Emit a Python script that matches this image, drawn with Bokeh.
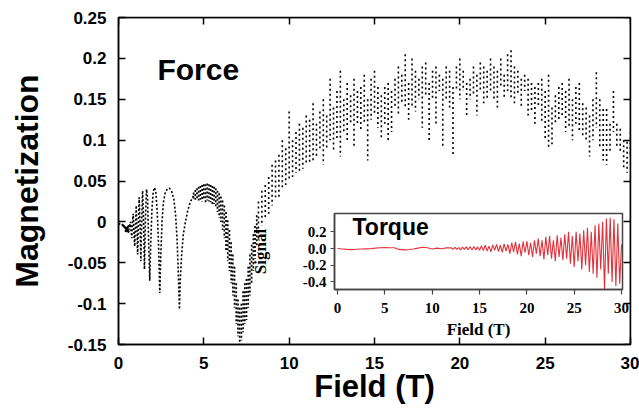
from bokeh.plotting import figure
from bokeh.models import Range1d, LinearAxis, FixedTicker, Label, PrintfTickFormatter
from bokeh.embed import file_html
from bokeh.resources import INLINE

# ---------------- data: main (Force) ----------------
# low-field dHvA trace
lf_x = [0.0, 0.1, 0.2, 0.3, 0.4, 0.5, 0.6, 0.66, 0.7, 0.74, 0.78, 0.82, 0.86, 0.9, 0.95,
        1.0, 1.04, 1.08, 1.12, 1.17, 1.21, 1.26, 1.31, 1.36, 1.41, 1.46, 1.52, 1.58, 1.64,
        1.7, 1.76, 1.83, 1.89, 1.96, 2.03, 2.11, 2.19, 2.27, 2.35, 2.42, 2.48, 2.55, 2.63,
        2.74, 2.88, 3.0, 3.12, 3.24, 3.34, 3.43, 3.5, 3.57, 3.62, 3.7, 3.8, 3.92, 4.05,
        4.2, 4.4]
lf_y = [-0.002, -0.003, -0.004, -0.005, -0.007, -0.009, -0.01, -0.005, 0.0, -0.012, -0.02,
        0.0, 0.01, -0.01, -0.03, 0.0, 0.02, -0.01, -0.04, 0.0, 0.03, 0.0, -0.048, 0.0, 0.038,
        0.01, -0.058, 0.005, 0.04, 0.03, -0.02, -0.072, -0.025, 0.015, 0.036, 0.042, 0.036,
        0.012, -0.03, -0.087, -0.04, 0.0, 0.024, 0.036, 0.041, 0.041, 0.037, 0.028, 0.01,
        -0.02, -0.06, -0.107, -0.07, -0.04, -0.015, 0.0, 0.013, 0.024, 0.032]
core_x = [0.2, 0.35, 0.5, 0.62, 0.5, 0.4, 0.55, 0.7]
core_y = [-0.003, -0.006, -0.01, -0.013, -0.01, -0.012, -0.006, -0.004]

# hump / dip band (top and bottom of each dotted column)
band_x = [4.4, 4.5, 4.6, 4.7, 4.8, 4.9, 5.0, 5.1, 5.2, 5.3, 5.4, 5.5, 5.6, 5.7, 5.8, 5.9,
          6.0, 6.1, 6.2, 6.3, 6.4, 6.5, 6.6, 6.7, 6.8, 6.9, 7.0, 7.1, 7.2, 7.3, 7.4, 7.5,
          7.6, 7.7, 7.8, 7.9, 8.0, 8.1]
band_top = [0.036, 0.039, 0.041, 0.043, 0.044, 0.045, 0.046, 0.046, 0.047, 0.046, 0.045,
            0.044, 0.043, 0.041, 0.038, 0.035, 0.031, 0.026, 0.02, 0.012, 0.002, -0.01,
            -0.025, -0.04, -0.055, -0.075, -0.095, -0.105, -0.1, -0.085, -0.075, -0.07,
            -0.055, -0.04, -0.028, -0.015, -0.005, 0.008]
band_bot = [0.026, 0.027, 0.027, 0.026, 0.027, 0.025, 0.027, 0.024, 0.026, 0.025, 0.024,
            0.022, 0.022, 0.018, 0.012, 0.005, 0.0, -0.01, -0.02, -0.035, -0.048, -0.06,
            -0.075, -0.09, -0.105, -0.125, -0.14, -0.15, -0.145, -0.135, -0.125, -0.12,
            -0.105, -0.09, -0.075, -0.06, -0.045, -0.03]

# high-field columns
hf_x = [8.2, 8.4, 8.6, 8.8, 9.0, 9.2, 9.4, 9.6, 9.8, 10.0, 10.2, 10.4, 10.6, 10.8, 11.0,
        11.2, 11.4, 11.6, 11.8, 12.0, 12.2, 12.4, 12.6, 12.8, 13.0, 13.2, 13.4, 13.6, 13.8,
        14.0, 14.2, 14.4, 14.6, 14.8, 15.0, 15.2, 15.4, 15.6, 15.8, 16.0, 16.2, 16.4, 16.6,
        16.8, 17.0, 17.2, 17.4, 17.6, 17.8, 18.0, 18.2, 18.4, 18.6, 18.8, 19.0, 19.2, 19.4,
        19.6, 19.8, 20.0, 20.2, 20.4, 20.6, 20.8, 21.0, 21.2, 21.4, 21.6, 21.8, 22.0, 22.2,
        22.4, 22.6, 22.8, 23.0, 23.2, 23.4, 23.6, 23.8, 24.0, 24.2, 24.4, 24.6, 24.8, 25.0,
        25.2, 25.4, 25.6, 25.8, 26.0, 26.2, 26.4, 26.6, 26.8, 27.0, 27.2, 27.4, 27.6, 27.8,
        28.0, 28.2, 28.4, 28.6, 28.8, 29.0, 29.2, 29.4, 29.6, 29.8, 30.0]
hf_top = [0.025, 0.038, 0.045, 0.055, 0.07, 0.075, 0.082, 0.1, 0.09, 0.135, 0.1, 0.11, 0.12,
          0.115, 0.13, 0.125, 0.145, 0.12, 0.135, 0.15, 0.13, 0.175, 0.14, 0.16, 0.185, 0.15,
          0.17, 0.155, 0.175, 0.16, 0.165, 0.18, 0.15, 0.175, 0.185, 0.165, 0.155, 0.165,
          0.17, 0.16, 0.175, 0.19, 0.18, 0.205, 0.17, 0.2, 0.185, 0.175, 0.19, 0.195, 0.17,
          0.185, 0.19, 0.18, 0.175, 0.19, 0.185, 0.165, 0.19, 0.2, 0.185, 0.17, 0.175, 0.19,
          0.18, 0.195, 0.19, 0.185, 0.2, 0.19, 0.185, 0.2, 0.18, 0.205, 0.21, 0.19, 0.185,
          0.175, 0.18, 0.175, 0.17, 0.165, 0.17, 0.175, 0.16, 0.18, 0.14, 0.155, 0.165, 0.17,
          0.16, 0.175, 0.15, 0.165, 0.17, 0.145, 0.14, 0.13, 0.15, 0.183, 0.15, 0.138, 0.138,
          0.12, 0.16, 0.12, 0.114, 0.1, 0.098, 0.11]
hf_bot = [-0.02, -0.005, 0.005, 0.01, 0.02, 0.03, 0.03, 0.04, 0.045, 0.05, 0.055, 0.06, 0.06,
          0.065, 0.07, 0.07, 0.075, 0.08, 0.09, 0.07, 0.09, 0.1, 0.085, 0.1, 0.08, 0.11, 0.1,
          0.12, 0.09, 0.12, 0.11, 0.12, 0.075, 0.125, 0.13, 0.115, 0.1, 0.12, 0.1, 0.11,
          0.14, 0.13, 0.145, 0.14, 0.125, 0.14, 0.135, 0.15, 0.115, 0.155, 0.1, 0.15, 0.12,
          0.16, 0.09, 0.15, 0.14, 0.08, 0.16, 0.15, 0.16, 0.13, 0.15, 0.155, 0.13, 0.16,
          0.145, 0.15, 0.16, 0.15, 0.14, 0.165, 0.15, 0.16, 0.15, 0.145, 0.155, 0.14, 0.16,
          0.13, 0.135, 0.12, 0.14, 0.12, 0.1, 0.09, 0.095, 0.12, 0.125, 0.13, 0.11, 0.115,
          0.1, 0.12, 0.11, 0.105, 0.1, 0.08, 0.1, 0.115, 0.09, 0.075, 0.07, 0.085, 0.11,
          0.09, 0.086, 0.065, 0.06, 0.08]

x_ticks = [0, 5, 10, 15, 20, 25, 30]
y_ticks = [-0.15, -0.1, -0.05, 0, 0.05, 0.1, 0.15, 0.2, 0.25]
y_tick_labels = ["-0.15", "-0.1", "-0.05", "0", "0.05", "0.1", "0.15", "0.2", "0.25"]

# ---------------- data: inset (Torque) ----------------
tq_x = [0.0, 0.5, 1.0, 1.5, 2.0, 2.5, 3.0, 3.5, 4.0, 4.5, 5.0, 5.5, 6.0, 6.5, 7.0, 7.5,
        8.0, 8.5, 9.0, 9.5, 10.0, 10.5, 11.0, 11.5,
        12.0, 12.2, 12.4, 12.6, 12.8, 13.0, 13.2, 13.4, 13.6, 13.8, 14.0, 14.2, 14.4, 14.6,
        14.8, 15.0, 15.2, 15.4, 15.6, 15.8, 16.0, 16.2, 16.4, 16.6, 16.8, 17.0, 17.2, 17.4,
        17.6, 17.8, 18.0, 18.2, 18.4, 18.6, 18.8, 19.0, 19.2, 19.4, 19.6, 19.8, 20.0, 20.2,
        20.4, 20.6, 20.8, 21.0, 21.2, 21.4, 21.6, 21.8, 22.0, 22.2, 22.4, 22.6, 22.8, 23.0,
        23.2, 23.4, 23.6, 23.8, 24.0, 24.2, 24.4, 24.6, 24.8, 25.0, 25.2, 25.4, 25.6, 25.8,
        26.0, 26.2, 26.4, 26.6, 26.8, 27.0, 27.2, 27.4, 27.6, 27.8, 28.0, 28.2, 28.4, 28.6,
        28.8, 29.0, 29.2, 29.4, 29.6, 29.8, 30.0]
tq_y = [0.0, -0.005, -0.01, -0.012, -0.008, -0.005, -0.003, -0.002, 0.005, 0.01, 0.012,
        0.01, 0.01, -0.01, -0.015, -0.012, -0.005, 0.005, 0.015, 0.01, -0.005, 0.005,
        -0.002, 0.008,
        0.01, -0.01, 0.015, -0.008, 0.012, -0.015, 0.018, -0.01, 0.02, -0.012, 0.022,
        -0.018, 0.025, -0.015, 0.02, -0.02,
        0.035, -0.025, 0.04, -0.03, 0.03, -0.04, 0.045, -0.02, 0.05, -0.035, 0.04, -0.045,
        0.055, -0.03, 0.05,
        -0.06, 0.07, -0.04, 0.08, -0.07, 0.06, -0.09, 0.085, -0.05, 0.09, -0.08, 0.07,
        -0.1, 0.1, -0.06,
        0.12, -0.09, 0.1, -0.13, 0.14, -0.08, 0.15, -0.12, 0.1, -0.15, 0.16, -0.1, 0.13,
        -0.14, 0.17,
        -0.12, 0.2, -0.18, 0.15, -0.22, 0.2, -0.15, 0.18, -0.25, 0.22, -0.2, 0.25, -0.28,
        0.2, -0.3,
        0.28, -0.35, 0.3, -0.25, 0.32, -0.49, 0.36, -0.3, 0.37, -0.4, 0.35, -0.45, 0.3,
        -0.42, 0.05]
tq_x_ticks = [0, 5, 10, 15, 20, 25, 30]
tq_y_ticks = [-0.4, -0.2, 0.0, 0.2]
tq_y_tick_labels = ["-0.4", "-0.2", "0.0", "0.2"]

SANS = "Liberation Sans"
SERIF = "Liberation Serif"

# ---------------- main figure ----------------
p = figure(width=639, height=409, x_range=Range1d(0, 30), y_range=Range1d(-0.15, 0.25),
           output_backend="svg", toolbar_location=None,
           min_border_left=118, min_border_right=9, min_border_top=17, min_border_bottom=65)
p.styles = {"position": "absolute", "left": "0px", "top": "0px"}
p.grid.visible = False
p.outline_line_color = "black"
p.outline_line_width = 1.5
p.background_fill_color = "white"
p.border_fill_color = "white"

p.line(lf_x, lf_y, line_color="black", line_width=1.6, line_dash="2 2")
p.line(core_x, core_y, line_color="black", line_width=2.2)
p.segment(x0=band_x, y0=band_top, x1=band_x, y1=band_bot, line_color="black",
          line_width=1.7, line_dash="2 2")
p.segment(x0=hf_x, y0=hf_top, x1=hf_x, y1=hf_bot, line_color="black",
          line_width=1.6, line_dash="2 3")

xa = p.xaxis[0]
xa.ticker = FixedTicker(ticks=x_ticks)
ya = p.yaxis[0]
ya.ticker = FixedTicker(ticks=y_ticks)
ya.formatter = PrintfTickFormatter(format="%g")
ya.major_label_overrides = {t: s for t, s in zip(y_ticks, y_tick_labels)}
for ax in (xa, ya):
    ax.major_tick_in = 7
    ax.major_tick_out = 0
    ax.minor_tick_in = 0
    ax.minor_tick_out = 0
    ax.axis_line_width = 1.5
    ax.major_tick_line_width = 1.5
    ax.major_label_text_font = SANS
    ax.major_label_text_font_style = "bold"
    ax.major_label_text_font_size = "17px"
    ax.major_label_text_color = "black"
    ax.axis_label_text_font = SANS
    ax.axis_label_text_font_style = "bold"
    ax.axis_label_text_color = "black"
xa.major_label_standoff = 12
ya.major_label_standoff = 12
ya.axis_label = "Magnetization"
ya.axis_label_text_font_size = "32px"
ya.axis_label_standoff = 20
xa.axis_label = "Field (T)"
xa.axis_label_text_font_size = "31px"
xa.axis_label_standoff = -3

# mirrored inward ticks on top and right (no labels, no layout space)
top_ax = LinearAxis(ticker=FixedTicker(ticks=x_ticks), fixed_location=0.25,
                    major_label_text_color=None, major_tick_in=7, major_tick_out=0,
                    minor_tick_in=0, minor_tick_out=0, axis_line_width=1.5,
                    major_tick_line_width=1.5)
p.add_layout(top_ax, "above")
right_ax = LinearAxis(ticker=FixedTicker(ticks=y_ticks), fixed_location=30,
                      major_label_text_color=None, major_tick_in=7, major_tick_out=0,
                      minor_tick_in=0, minor_tick_out=0, axis_line_width=1.5,
                      major_tick_line_width=1.5)
p.add_layout(right_ax, "right")

p.add_layout(Label(x=2.28, y=0.186, text="Force", text_align="left",
                   text_baseline="middle", text_font=SANS,
                   text_font_style="bold", text_font_size="30px", text_color="black"))

# ---------------- inset figure ----------------
ins = figure(width=388, height=140, x_range=Range1d(-0.32, 30.1), y_range=Range1d(-0.49, 0.42),
             output_backend="svg", toolbar_location=None,
             min_border_left=90, min_border_right=10, min_border_top=2, min_border_bottom=62,
             background_fill_color=None, border_fill_color=None)
ins.styles = {"position": "absolute", "left": "244px", "top": "211px"}
ins.grid.visible = False
ins.outline_line_color = "#444444"
ins.outline_line_width = 1.5
ins.line(tq_x, tq_y, line_color="#e3323b", line_width=1.1)

ixa = ins.xaxis[0]
ixa.ticker = FixedTicker(ticks=tq_x_ticks)
iya = ins.yaxis[0]
iya.ticker = FixedTicker(ticks=tq_y_ticks)
iya.formatter = PrintfTickFormatter(format="%.1f")
iya.major_label_overrides = {t: s for t, s in zip(tq_y_ticks, tq_y_tick_labels)}
for ax in (ixa, iya):
    ax.major_tick_in = 0
    ax.major_tick_out = 5
    ax.minor_tick_in = 0
    ax.minor_tick_out = 0
    ax.axis_line_color = "#444444"
    ax.axis_line_width = 1.5
    ax.major_tick_line_color = "#444444"
    ax.major_tick_line_width = 1.2
    ax.major_label_text_font = SERIF
    ax.major_label_text_font_style = "bold"
    ax.major_label_text_font_size = "15px"
    ax.major_label_text_color = "black"
    ax.axis_label_text_font = SERIF
    ax.axis_label_text_font_style = "bold"
    ax.axis_label_text_font_size = "17px"
    ax.axis_label_text_color = "black"
iya.major_tick_out = 4
ixa.major_label_standoff = 8
iya.major_label_standoff = 4
ixa.axis_label = "Field (T)"
ixa.axis_label_standoff = 4
iya.axis_label = "Signal"
iya.axis_label_standoff = 30

ins.add_layout(Label(x=1.58, y=0.258, text="Torque", text_align="left",
                     text_baseline="middle", text_font=SANS,
                     text_font_style="bold", text_font_size="23px", text_color="black"))

open("out.html", "w").write(file_html([p, ins], INLINE))
